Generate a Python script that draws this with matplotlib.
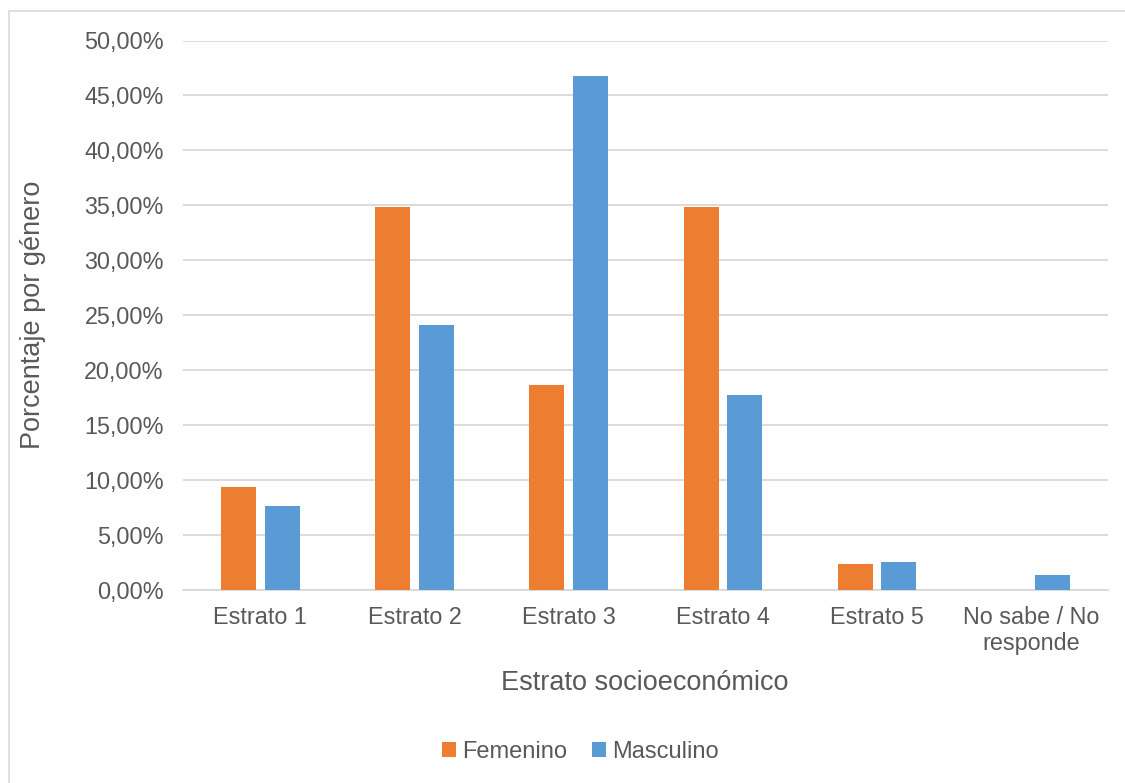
import matplotlib
matplotlib.use("Agg")
import matplotlib.pyplot as plt
from matplotlib.patches import Rectangle
import numpy as np

categories = ["Estrato 1", "Estrato 2", "Estrato 3", "Estrato 4", "Estrato 5", "No sabe / No\nresponde"]
femenino = [9.3, 34.86, 18.6, 34.86, 2.32, 0.0]
masculino = [7.6, 24.05, 46.75, 17.7, 2.5, 1.32]
series_names = ["Femenino", "Masculino"]
yticks = [0, 5, 10, 15, 20, 25, 30, 35, 40, 45, 50]

C_F = "#ED7D31"
C_M = "#5B9BD5"
TXT = "#595959"
GRID = "#D9D9D9"

plt.rcParams['font.family'] = ['Liberation Sans', 'DejaVu Sans']

W, H = 1125, 783
fig = plt.figure(figsize=(W / 100, H / 100), dpi=100)
fig.patch.set_facecolor("white")

# outer chart border (left/top visible)
fig.patches.append(Rectangle((9 / W, -0.1), 1.2, (H - 11) / H + 0.1, transform=fig.transFigure,
                             fill=False, edgecolor=GRID, linewidth=1.2))

ax = fig.add_axes([183.3 / W, (H - 589.5) / H, 925 / W, (589.5 - 40.5) / H])
x = np.arange(len(categories))
bw = 0.227
off = 0.141
ax.bar(x - off, femenino, bw, color=C_F, label=series_names[0], zorder=3)
ax.bar(x + off, masculino, bw, color=C_M, label=series_names[1], zorder=3)

ax.set_xlim(-0.5, len(categories) - 0.5)
ax.set_ylim(0, 50)
ax.set_yticks(yticks)
ax.set_yticklabels([("%.2f%%" % v).replace(".", ",") for v in yticks])
ax.set_xticks(x)
ax.set_xticklabels(categories, linespacing=1.15)
ax.yaxis.grid(True, color=GRID, linewidth=1.3, zorder=0)
ax.set_axisbelow(True)
for s in ["top", "right", "left"]:
    ax.spines[s].set_visible(False)
ax.spines["bottom"].set_color(GRID)
ax.spines["bottom"].set_linewidth(1.3)
ax.tick_params(axis="both", length=0, labelsize=16.8, labelcolor=TXT)
ax.tick_params(axis="y", pad=14)
ax.tick_params(axis="x", pad=12)

fig.text(33 / W, (H - 315) / H, "Porcentaje por género", rotation=90, ha="center", va="center",
         fontsize=19.5, color=TXT)
fig.text(644.5 / W, (H - 683) / H, "Estrato socioeconómico", ha="center", va="center",
         fontsize=19.5, color=TXT)

leg = fig.legend(loc="center", bbox_to_anchor=(580 / W, (H - 752) / H), ncol=2, frameon=False,
                 fontsize=17, handlelength=0.6, handleheight=0.6, handletextpad=0.25,
                 columnspacing=1.05, labelcolor=TXT)

fig.savefig("out.png", dpi=100, facecolor="white")
